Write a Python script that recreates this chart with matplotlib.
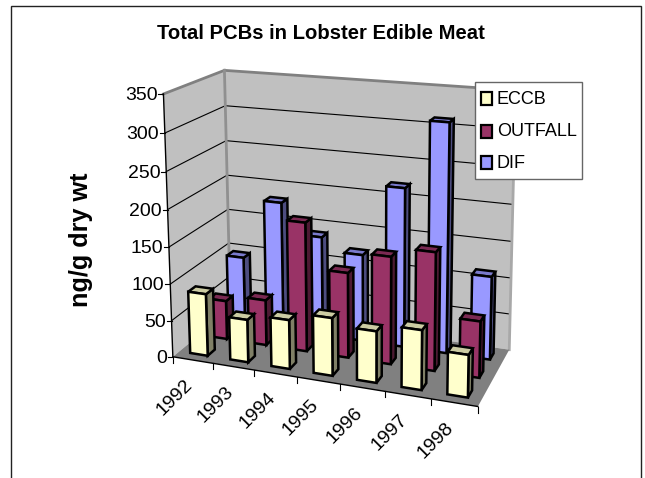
import matplotlib
matplotlib.use("Agg")
import matplotlib.pyplot as plt
from matplotlib.patches import Polygon, Rectangle
import numpy as np

plt.rcParams['font.family'] = ['Liberation Sans', 'DejaVu Sans']

years = ['1992', '1993', '1994', '1995', '1996', '1997', '1998']
eccb = [85, 58, 66, 77, 68, 78, 55]
outfall = [54, 63, 177, 116, 145, 158, 75]
dif = [96, 181, 139, 121, 219, 311, 113]
series_names = ['ECCB', 'OUTFALL', 'DIF']
yticks = [0, 50, 100, 150, 200, 250, 300, 350]

# face, side and top colours of each series (front to back)
face_cols = ['#FFFFCC', '#993366', '#9999FF']
side_cols = ['#808066', '#4D1A33', '#4D4D80']
top_cols = ['#CCCCA3', '#7A2952', '#7A7ACC']

# the excel 3d box: (year, depth, value) -> pixel, used to fit the projection
box_pts = [(0, 0, 0, 172, 357), (7, 0, 0, 478, 406), (0, 1, 0, 231, 308),
           (7, 1, 0, 509, 351), (0, 0, 350, 164, 94), (0, 1, 350, 224, 70),
           (7, 1, 350, 515.5, 90), (1, 0, 0, 213, 364), (6, 0, 0, 431, 398),
           (0, 0, 100, 170, 284), (0, 1, 100, 229, 243), (0, 0, 200, 167.7, 210),
           (0, 1, 200, 227, 176)]

A = []
for x, d, z, u, v in box_pts:
    p = [x / 7, d, z / 350, 1]
    A.append(p + [0, 0, 0, 0] + [-u * c for c in p])
    A.append([0, 0, 0, 0] + p + [-v * c for c in p])
P = np.linalg.svd(np.array(A))[2][-1].reshape(3, 4)


def proj(x, d, z):
    q = P @ np.array([x / 7, d, z / 350, 1])
    return q[0] / q[2], q[1] / q[2]


fig = plt.figure(figsize=(6.45, 4.78), dpi=100)
ax = fig.add_axes([0, 0, 1, 1])
ax.set_xlim(0, 645)
ax.set_ylim(478, 0)
ax.axis('off')

ax.add_patch(Rectangle((11, 6), 630, 500, fc='white', ec='#222222', lw=1))


def poly(pts, fc, ec='none', lw=0, z=1):
    ax.add_patch(Polygon([proj(*p) for p in pts], closed=True, fc=fc, ec=ec, lw=lw,
                         joinstyle='miter', zorder=z))


def seg(a, b, c='black', lw=0.8, z=1.5):
    pa, pb = proj(*a), proj(*b)
    ax.plot([pa[0], pb[0]], [pa[1], pb[1]], color=c, lw=lw, zorder=z,
            solid_capstyle='projecting')


# walls and floor
poly([(0, 0, 0), (0, 1, 0), (0, 1, 350), (0, 0, 350)], '#C0C0C0')
poly([(0, 1, 0), (7, 1, 0), (7, 1, 350), (0, 1, 350)], '#C0C0C0')
for t in yticks[1:-1]:
    seg((0, 0, t), (0, 1, t))
    seg((0, 1, t), (7, 1, t))
poly([(0, 0, 0), (7, 0, 0), (7, 1, 0), (0, 1, 0)], '#808080', z=1.6)
seg((0, 0, 350), (0, 1, 350), '#808080', 2)
seg((0, 1, 350), (7, 1, 350), '#808080', 2)
seg((0, 1, 0), (0, 1, 350), '#909090', 2)
seg((7, 1, 0), (7, 1, 350), '#A8A8A8', 2)
seg((0, 0, 0), (0, 0, 350), 'black', 1)
seg((0, 0, 0), (7, 0, 0), 'black', 1, z=1.7)

# axis ticks and labels
for t in yticks:
    u, v = proj(0, 0, t)
    ax.plot([u - 5, u], [v, v], color='black', lw=0.8)
    ax.text(u - 6, v + 1.5, str(t), ha='right', va='center', fontsize=14)
for i in range(len(years) + 1):
    u, v = proj(i, 0, 0)
    ax.plot([u, u], [v, v + 6], color='black', lw=0.8)
for i, yr in enumerate(years):
    u, v = proj(i + 0.5, 0, 0)
    ax.text(u - 18, v + 37.5, yr, rotation=45, ha='center', va='center', fontsize=14)

# bars, back row first
width = 0.44
depth = 0.12
rows = [eccb, outfall, dif]
for s in [2, 1, 0]:
    d0 = (s + 0.5) / 3 - depth / 2
    d1 = d0 + depth
    for i, val in enumerate(rows[s]):
        x0 = i + 0.49 - width / 2
        x1 = x0 + width
        poly([(x1, d0, 0), (x1, d1, 0), (x1, d1, val), (x1, d0, val)], side_cols[s], 'black', 1.8, 3)
        poly([(x0, d0, val), (x1, d0, val), (x1, d1, val), (x0, d1, val)], top_cols[s], 'black', 1.8, 3)
        poly([(x0, d0, 0), (x1, d0, 0), (x1, d0, val), (x0, d0, val)], face_cols[s], 'black', 1.8, 3)

ax.text(321, 33, 'Total PCBs in Lobster Edible Meat', ha='center', va='center',
        fontsize=14.6, fontweight='bold')
ax.text(81, 239.5, 'ng/g dry wt', rotation=90, ha='center', va='center',
        fontsize=18.2, fontweight='bold')

# legend box
ax.add_patch(Rectangle((475, 82), 107, 97, fc='white', ec='#666666', lw=1, zorder=10))
for name, col, yc in zip(series_names, face_cols, [98, 131, 162]):
    ax.add_patch(Rectangle((481, yc - 6.5), 11, 13, fc=col, ec='black', lw=1.6, zorder=11))
    ax.text(497, yc + 1, name, ha='left', va='center', fontsize=13, zorder=11)

plt.savefig('out.png', dpi=100)
